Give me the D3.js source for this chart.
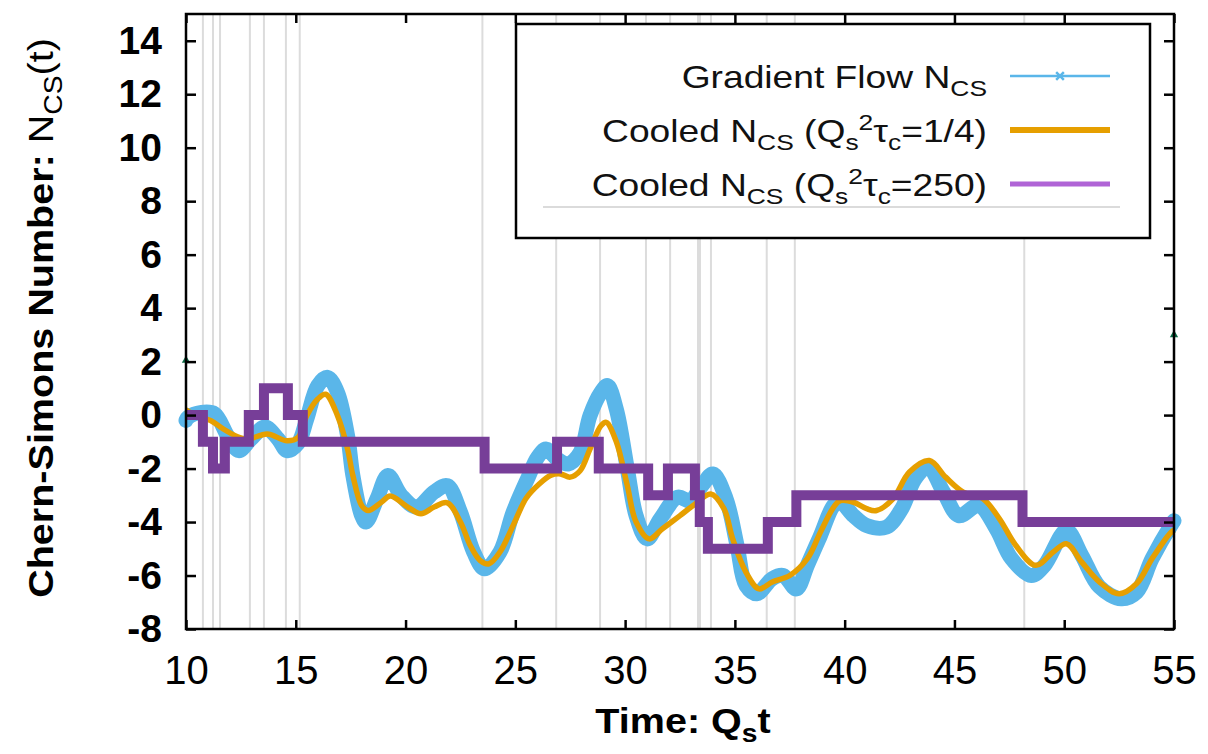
<!DOCTYPE html>
<html>
<head>
<meta charset="utf-8">
<title>Chern-Simons Number</title>
<script src="https://cdn.jsdelivr.net/npm/d3@7"></script>
<style>
  body { margin: 0; background: #fff; }
  text { font-family: "Liberation Sans", Arial, Helvetica, sans-serif; }
</style>
</head>
<body>
<script>
// axis ticks
var xTicks = [10, 15, 20, 25, 30, 35, 40, 45, 50, 55];
var yTicks = [-8, -6, -4, -2, 0, 2, 4, 6, 8, 10, 12, 14];

// gradient flow N_CS
var flowT = [10.0, 10.1, 10.7, 11.3, 11.9, 12.4, 12.95, 13.6, 14.2, 14.6, 15.1, 15.5, 16.0, 16.45, 16.9,
  17.36, 17.6, 18.0, 18.2, 18.7, 19.2, 19.8, 20.5, 21.3, 21.9, 22.5, 23.1, 23.6, 24.3, 24.9,
  25.6, 26.0, 26.4, 26.9, 27.4, 27.95, 28.4, 28.9, 29.2, 29.6, 30.1, 30.5, 31.0, 31.6, 32.4,
  32.95, 33.5, 34.0, 34.6, 35.1, 35.5, 36.0, 36.7, 37.2, 37.8, 38.3, 38.9, 39.5, 39.8, 40.4,
  41.0, 41.9, 42.6, 43.2, 43.8, 44.5, 45.2, 46.1, 46.9, 47.6, 48.5, 49.1, 50.1, 50.8, 51.6,
  52.6, 53.3, 54.0, 54.9, 55.0];
var flowN = [-0.2, -0.08, 0.1, 0.05, -0.78, -1.33, -0.9, -0.45, -0.9, -1.33, -1.06, -0.15, 1.1, 1.41, 0.85,
  -0.78, -2.26, -3.76, -4.0, -3.13, -2.26, -3.0, -3.44, -2.88, -2.64, -3.63, -5.12, -5.75, -5.12, -3.63,
  -2.3, -1.6, -1.27, -1.64, -1.83, -1.4, -0.02, 0.85, 1.1, 0.22, -2.0, -3.76, -4.63, -3.88, -3.07,
  -3.2, -2.64, -2.2, -3.13, -4.88, -6.37, -6.68, -6.12, -6.0, -6.5, -5.62, -4.5, -3.38, -3.26, -3.76,
  -4.13, -4.19, -3.5, -2.39, -1.95, -2.88, -3.76, -3.38, -4.25, -5.37, -6.0, -5.62, -4.32, -5.25, -6.42,
  -6.87, -6.62, -5.37, -4.07, -3.95];

// cooled N_CS, Qs^2 tau_c = 1/4
var coolT = [10.0, 10.5, 11.14, 11.7, 12.35, 12.8, 13.7, 14.6, 15.1, 15.5, 16.0, 16.36, 16.9, 17.36, 17.6,
  18.0, 18.3, 18.9, 19.3, 20.1, 20.7, 21.3, 21.9, 22.5, 22.95, 23.4, 23.8, 24.3, 24.9, 25.5,
  26.1, 26.6, 27.05, 27.5, 27.95, 28.4, 28.9, 29.14, 29.6, 30.1, 30.5, 31.1, 31.7, 32.5, 33.1,
  33.9, 34.5, 34.9, 35.5, 36.1, 36.7, 37.5, 38.3, 38.9, 39.5, 39.8, 40.4, 41.0, 41.45, 42.2,
  42.95, 43.86, 44.6, 45.4, 46.3, 47.05, 47.8, 48.7, 49.5, 50.1, 50.8, 51.6, 52.5, 53.3, 54.0,
  54.8, 55.0];
var coolN = [0.2, -0.05, -0.21, -0.52, -0.81, -0.9, -0.71, -0.96, -0.84, -0.02, 0.6, 0.78, -0.02, -1.27, -2.26,
  -3.38, -3.57, -3.26, -3.03, -3.44, -3.69, -3.44, -3.28, -4.0, -4.88, -5.44, -5.56, -5.12, -4.13, -3.1,
  -2.57, -2.26, -2.2, -2.32, -2.08, -1.27, -0.4, -0.27, -1.0, -2.64, -4.0, -4.63, -4.25, -3.76, -3.38,
  -2.95, -3.5, -4.63, -5.87, -6.5, -6.24, -6.0, -5.37, -4.37, -3.44, -3.2, -3.26, -3.5, -3.57, -3.13,
  -2.13, -1.7, -2.32, -2.88, -3.13, -3.88, -4.88, -5.62, -5.12, -4.81, -5.5, -6.24, -6.68, -6.3, -5.37,
  -4.44, -4.3];

// cooled N_CS, Qs^2 tau_c = 250 (integer steps)
var stepT = [10.0, 10.77, 11.23, 11.77, 12.86, 13.55, 14.64, 15.32, 23.6, 26.9, 28.8, 31.05, 31.95, 33.18, 33.4, 33.77, 36.5, 37.8, 48.1, 55.0];
var stepN = [0, -1, -2, -1, 0, 1, 0, -1, -2, -1, -2, -3, -2, -3, -4, -5, -4, -3, -4, -4];

// grey marker lines (transition times)
var transT = [10.77, 11.23, 11.55, 12.91, 13.55, 14.55, 15.18, 23.5, 26.86, 28.86, 30.95, 32.05, 33.32, 33.41, 33.91, 36.45, 37.73, 48.18];

// stray points on the frame
var edgeT = [10.0, 55.0];
var edgeN = [2.05, 3.0];

var width = 1208, height = 754;
var x = d3.scaleLinear().domain([10, 55]).range([186, 1174]);
var y = d3.scaleLinear().domain([-8, 15]).range([629, 14]);

var svg = d3.select("body").append("svg")
  .attr("width", width)
  .attr("height", height);

// grey vertical lines
svg.selectAll("line.trans")
  .data(transT)
  .enter()
  .append("line")
  .attr("class", "trans")
  .attr("x1", function(d){ return x(d); })
  .attr("x2", function(d){ return x(d); })
  .attr("y1", y(15))
  .attr("y2", y(-8))
  .attr("stroke", "#dcdcdc")
  .attr("stroke-width", 2);

function zipPts(ts, vs) {
  return ts.map(function(t, i){ return [t, vs[i]]; });
}

var smooth = d3.line()
  .x(function(d){ return x(d[0]); })
  .y(function(d){ return y(d[1]); })
  .curve(d3.curveCatmullRom.alpha(0.5));

var step = d3.line()
  .x(function(d){ return x(d[0]); })
  .y(function(d){ return y(d[1]); })
  .curve(d3.curveStepAfter);

svg.append("path")
  .attr("d", smooth(zipPts(flowT, flowN)))
  .attr("fill", "none")
  .attr("stroke", "#5ab6e9")
  .attr("stroke-width", 15)
  .attr("stroke-linejoin", "round")
  .attr("stroke-linecap", "round");

svg.append("path")
  .attr("d", smooth(zipPts(coolT, coolN)))
  .attr("fill", "none")
  .attr("stroke", "#e69f00")
  .attr("stroke-width", 5.5)
  .attr("stroke-linejoin", "round");

svg.append("path")
  .attr("d", step(zipPts(stepT, stepN)))
  .attr("fill", "none")
  .attr("stroke", "#773e98")
  .attr("stroke-width", 10)
  .attr("stroke-linejoin", "miter");

svg.selectAll("path.edge")
  .data(zipPts(edgeT, edgeN))
  .enter()
  .append("path")
  .attr("class", "edge")
  .attr("d", d3.symbol().type(d3.symbolTriangle).size(30))
  .attr("transform", function(d){ return "translate(" + x(d[0]) + "," + y(d[1]) + ")"; })
  .attr("fill", "#0b6b45");

// axes, ticks inward
var plainNum = function(d){ return String(d); };

var gx = svg.append("g")
  .attr("transform", "translate(0," + y(-8) + ")")
  .call(d3.axisBottom(x).tickValues(xTicks).tickFormat(plainNum).tickSizeInner(-9).tickSizeOuter(0).tickPadding(27));
gx.selectAll("text")
  .attr("font-size", 40)
  .attr("fill", "#000")
  .style("font-family", "'Liberation Sans', Arial, sans-serif");

var gy = svg.append("g")
  .attr("transform", "translate(" + x(10) + ",0)")
  .call(d3.axisLeft(y).tickValues(yTicks).tickFormat(plainNum).tickSizeInner(-10).tickSizeOuter(0).tickPadding(24));
gy.selectAll("text")
  .attr("font-size", 39)
  .attr("font-weight", "bold")
  .attr("fill", "#000")
  .style("font-family", "'Liberation Sans', Arial, sans-serif");

svg.append("g")
  .attr("transform", "translate(0," + y(15) + ")")
  .call(d3.axisTop(x).tickValues(xTicks).tickSizeInner(-9).tickSizeOuter(0).tickFormat(""));
svg.append("g")
  .attr("transform", "translate(" + x(55) + ",0)")
  .call(d3.axisRight(y).tickValues(yTicks).tickSizeInner(-10).tickSizeOuter(0).tickFormat(""));

svg.selectAll(".domain").remove();
svg.selectAll(".tick line").attr("stroke", "#000").attr("stroke-width", 2.5);

svg.append("rect")
  .attr("x", x(10))
  .attr("y", y(15))
  .attr("width", x(55) - x(10))
  .attr("height", y(-8) - y(15))
  .attr("fill", "none")
  .attr("stroke", "#000")
  .attr("stroke-width", 2.5);

// axis titles
var xt = svg.append("g")
  .attr("transform", "translate(683,733) scale(1.13,1)")
  .append("text")
  .attr("text-anchor", "middle")
  .attr("font-size", 35)
  .attr("font-weight", "bold");
xt.append("tspan").text("Time: Q");
xt.append("tspan").attr("dy", 9).attr("font-size", 25).text("s");
xt.append("tspan").attr("dy", -9).text("t");

var yt = svg.append("g")
  .attr("transform", "translate(53,318) rotate(-90) scale(1.13,1)")
  .append("text")
  .attr("text-anchor", "middle")
  .attr("font-size", 35)
  .attr("font-weight", "bold");
yt.append("tspan").text("Chern-Simons Number: ");
yt.append("tspan").attr("font-weight", "normal").text("N");
yt.append("tspan").attr("font-weight", "normal").attr("dy", 9).attr("font-size", 25).text("CS");
yt.append("tspan").attr("font-weight", "normal").attr("dy", -9).text("(t)");

// legend
var lg = svg.append("g");
lg.append("rect")
  .attr("x", 516).attr("y", 24)
  .attr("width", 634).attr("height", 214)
  .attr("fill", "#fff")
  .attr("stroke", "#000")
  .attr("stroke-width", 2.5);
lg.append("line")
  .attr("x1", 543).attr("x2", 1120)
  .attr("y1", 207).attr("y2", 207)
  .attr("stroke", "#b8b8b8").attr("stroke-width", 1.2);

function legendText(yb, parts) {
  var t = lg.append("g")
    .attr("transform", "translate(987," + yb + ") scale(1.2,1)")
    .append("text")
    .attr("text-anchor", "end")
    .attr("font-size", 31)
    .attr("fill", "#111");
  parts.forEach(function(p){
    var s = t.append("tspan").text(p[0]);
    if (p[1]) s.attr("dy", p[1]);
    if (p[2]) s.attr("font-size", p[2]);
  });
}
legendText(88, [["Gradient Flow N"], ["CS", 8, 22]]);
legendText(142, [["Cooled N"], ["CS", 8, 22], [" (Q", -8], ["s", 8, 22], ["2", -20, 22], ["\u03C4", 12], ["c", 8, 22], ["=1/4)", -8]]);
legendText(196, [["Cooled N"], ["CS", 8, 22], [" (Q", -8], ["s", 8, 22], ["2", -20, 22], ["\u03C4", 12], ["c", 8, 22], ["=250)", -8]]);

var sampleY = [76, 130, 184];
var sampleColor = ["#5ab6e9", "#e69f00", "#b064d6"];
var sampleWidth = [2.5, 6, 5];
lg.selectAll("line.sample")
  .data(sampleY)
  .enter()
  .append("line")
  .attr("class", "sample")
  .attr("x1", 1010).attr("x2", 1110)
  .attr("y1", function(d){ return d; })
  .attr("y2", function(d){ return d; })
  .attr("stroke", function(d, i){ return sampleColor[i]; })
  .attr("stroke-width", function(d, i){ return sampleWidth[i]; });
lg.append("path")
  .attr("d", d3.symbol().type(d3.symbolX).size(40))
  .attr("transform", "translate(1060,76)")
  .attr("fill", "none")
  .attr("stroke", "#5ab6e9")
  .attr("stroke-width", 2.5);
</script>
</body>
</html>
